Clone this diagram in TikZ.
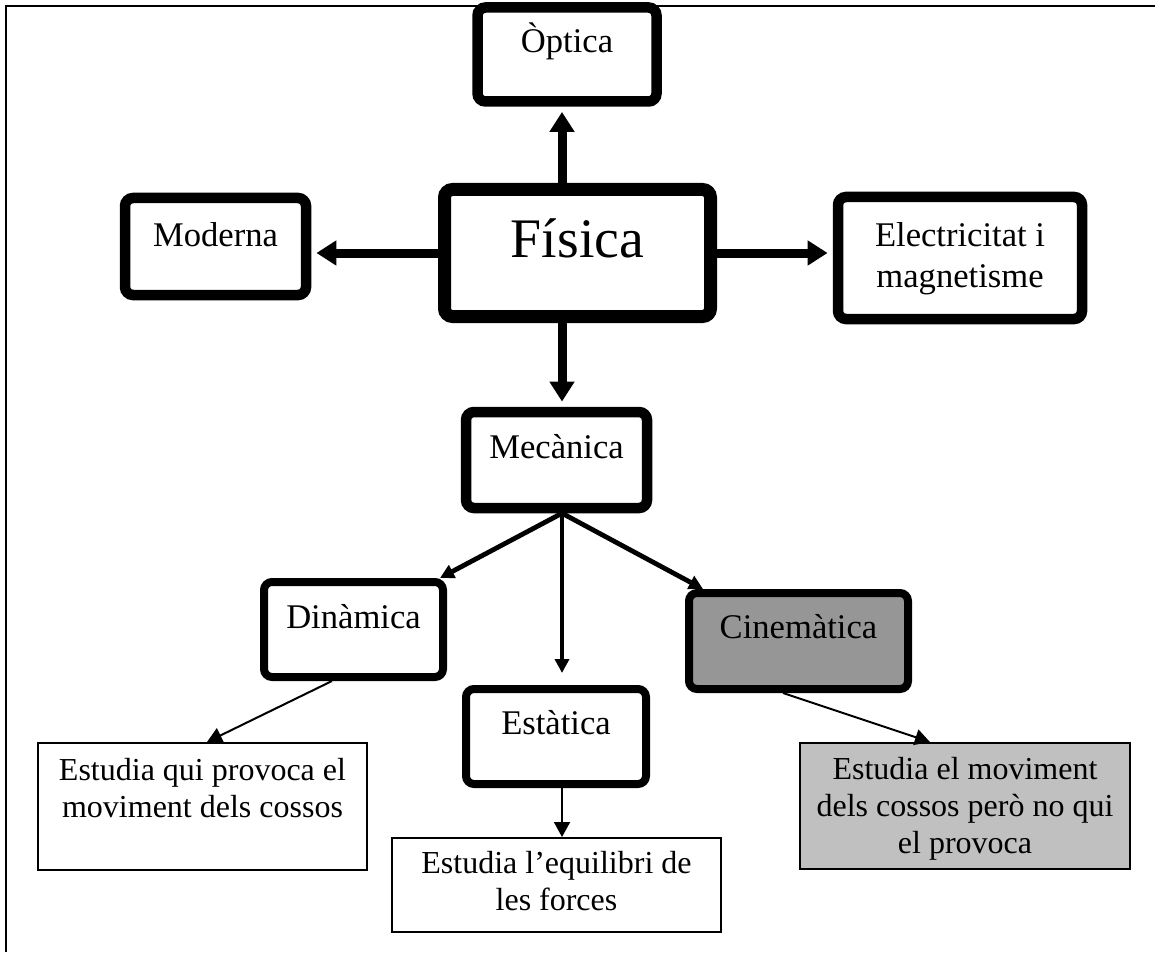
\documentclass[tikz,border=0pt]{standalone}
\usepackage{fontspec}
\setmainfont{Liberation Serif}
\usepackage{tikz}
\usetikzlibrary{arrows.meta, positioning}

\definecolor{cingray}{RGB}{150,150,150}
\definecolor{notegray}{RGB}{192,192,192}
\newcommand{\boxfont}{\fontsize{17.3pt}{20.3pt}\selectfont}
\newcommand{\notefont}{\fontsize{16pt}{18.5pt}\selectfont}
\newcommand{\fisfont}{\fontsize{27.9pt}{32pt}\selectfont}

\begin{document}
\begin{tikzpicture}[x=0.5pt, y=-0.5pt,
    topic/.style={rectangle, rounded corners=4pt, draw=black, fill=white, line width=5.25pt, inner sep=0pt, anchor=base, font=\boxfont},
    subtopic/.style={topic, line width=4pt},
    note/.style={rectangle, draw=black, fill=white, line width=1pt, inner sep=0pt, anchor=base, font=\notefont},
    bigarrow/.style={-{Triangle[width=12pt, length=10pt]}, line width=4.5pt, shorten >=2.6pt},
    midarrow/.style={-{Triangle[width=7pt, length=7pt]}, line width=2.4pt},
    thinarrow/.style={-{Triangle[width=8pt, length=7.5pt]}, line width=1pt}
    ]
    \useasboundingbox (0,0) rectangle (1155,952);
    % Frame
    \draw[line width=1pt] (1155,6) -- (6,6) -- (6,952);
    \coordinate (spine) at (562,0);
    % Nodes
    \node[topic, line width=6.5pt, font=\fisfont, minimum width=133pt, text height=33.75pt, text depth=29.75pt] (Fis) at (577.5,257) {Física};
    \node[topic, minimum width=89.5pt, text height=22.75pt, text depth=24.25pt] (Opt) at (567,53) {Òptica};
    \node[topic, minimum width=90.5pt, text height=24.5pt, text depth=24pt] (Mod) at (215.5,247) {Moderna};
    \node[topic, minimum width=122pt, text height=25pt, text depth=36pt] (Ele) at (960,247) {\begin{tabular}[t]{@{}c@{}}Electricitat i\\magnetisme\end{tabular}};
    \node[topic, minimum width=90.5pt, text height=23pt, text depth=25pt] (Mec) at (556.5,458) {Mecànica};
    \node[subtopic, minimum width=89.5pt, text height=23pt, text depth=24.5pt] (Din) at (353.5,628) {Dinàmica};
    \node[subtopic, minimum width=90pt, text height=22.5pt, text depth=25pt] (Est) at (556,734) {Estàtica};
    \node[subtopic, fill=cingray, minimum width=109.5pt, text height=22.5pt, text depth=25.5pt] (Cin) at (798.5,638) {Cinemàtica};
    \node[note, minimum width=164.5pt, text height=18.5pt, text depth=45pt] (DinNote) at (202.5,780) {\begin{tabular}[t]{@{}c@{}}Estudia qui provoca el\\moviment dels cossos\end{tabular}};
    \node[note, minimum width=164.5pt, text height=17.5pt, text depth=29.5pt] (EstNote) at (556.5,873) {\begin{tabular}[t]{@{}c@{}}Estudia l’equilibri de\\les forces\end{tabular}};
    \node[note, fill=notegray, minimum width=165pt, text height=18pt, text depth=45pt] (CinNote) at (965,779) {\begin{tabular}[t]{@{}c@{}}Estudia el moviment\\dels cossos però no qui\\el provoca\end{tabular}};
    % Edges
    \path (Fis.north -| spine) edge [bigarrow] (Opt.south -| spine);
    \path (Fis.south -| spine) edge [bigarrow] (Mec.north -| spine);
    \path (Fis.west) edge [bigarrow] (Fis.west -| Mod.east);
    \path (Fis.east) edge [bigarrow] (Fis.east -| Ele.west);
    \path (Mec.south -| spine) edge [midarrow] ([xshift=-3.5pt]Din.north east);
    \path (Mec.south -| spine) edge [midarrow] ([yshift=6pt]Est.north -| spine);
    \path (Mec.south -| spine) edge [midarrow] ([xshift=9pt]Cin.north west);
    \path ([xshift=-10.75pt]Din.south) edge [thinarrow] ([xshift=2.25pt]DinNote.north);
    \path (Est.south -| spine) edge [thinarrow] (EstNote.north -| spine);
    \path ([xshift=-7.75pt]Cin.south) edge [thinarrow] ([xshift=-17.5pt]CinNote.north);
\end{tikzpicture}
\end{document}
